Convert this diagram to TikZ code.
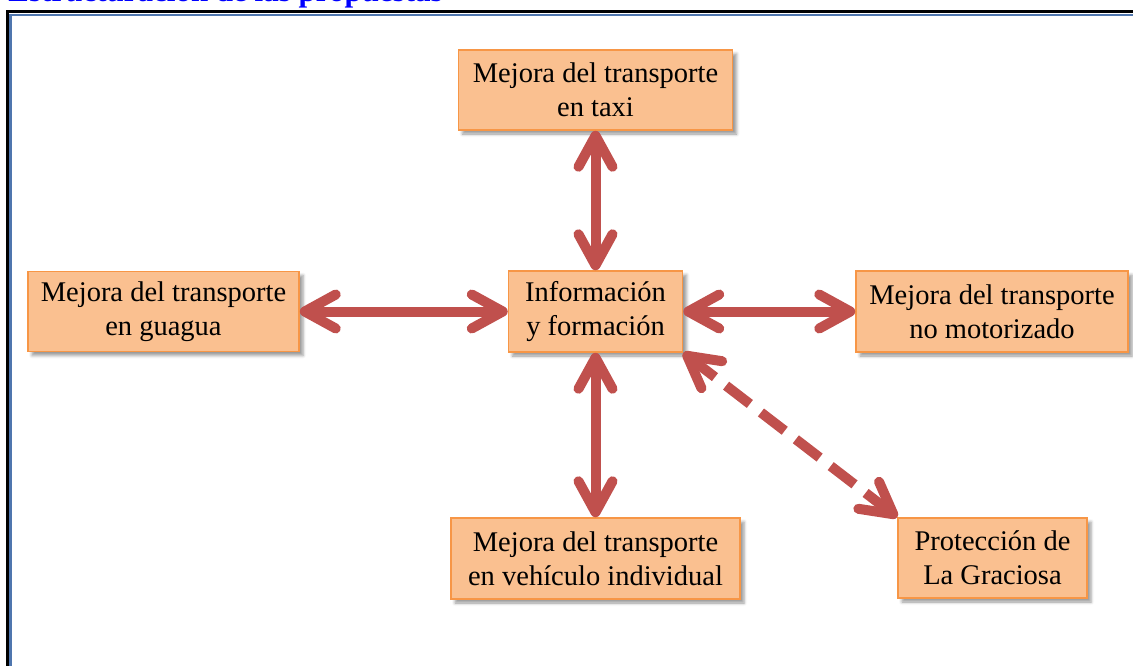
\documentclass[tikz,border=0pt]{standalone}
\usepackage{fontspec}
\setmainfont{Liberation Serif}
\usetikzlibrary{arrows.meta,shadows.blur}
\definecolor{boxfill}{HTML}{FAC090}
\definecolor{boxline}{HTML}{F79646}
\definecolor{arr}{HTML}{C0504D}
\definecolor{frameblue}{HTML}{4F76AE}
\definecolor{titleblue}{HTML}{0000FF}
\begin{document}
\begin{tikzpicture}[x=1pt,y=-1pt,
  box/.style={draw=boxline, line width=1.5pt, fill=boxfill, inner sep=0pt,
    align=center, font=\fontsize{28.5}{34}\selectfont,
    blur shadow={shadow xshift=4pt, shadow yshift=-4pt, shadow blur radius=3pt, shadow opacity=40}},
  barb/.tip={Straight Barb[length=31pt,width=34pt,round]},
  link/.style={draw=arr, line width=10pt, barb-barb},
  dlink/.style={link, dash pattern=on 30pt off 14pt}
]
\path[use as bounding box] (0,0) rectangle (1133,666);
\clip (0,0) rectangle (1133,666);
\node[anchor=base east, inner sep=0pt, text=titleblue,
  font=\fontsize{31}{31}\bfseries\selectfont] (title) at (443,1.5) {Estructuración de las propuestas};
\draw[black, line width=3pt] (7.5,11.3) rectangle (1160,700);
\draw[frameblue, line width=2.5pt] (10.5,15) rectangle (1160,700);

\node[box, minimum width=274pt, minimum height=80pt] (taxi) at (595.5,90) {Mejora del transporte\\en taxi};
\node[box, minimum width=271pt, minimum height=80pt] (guagua) at (163.5,311.5) {Mejora del transporte\\en guagua};
\node[box, minimum width=174pt, minimum height=81pt] (info) at (595.5,311.5) {Información\\y formación};
\node[box, minimum width=272pt, minimum height=81pt] (nomot) at (992,311.5) {Mejora del transporte\\no motorizado};
\node[box, minimum width=289pt, minimum height=81pt] (veh) at (595.5,558.5) {Mejora del transporte\\en vehículo individual};
\node[box, minimum width=189pt, minimum height=80pt] (grac) at (992.5,558) {Protección de\\La Graciosa};

\draw[link] (taxi.south) -- (info.north);
\draw[link] (guagua.east) -- (info.west);
\draw[link] (info.east) -- (nomot.west);
\draw[link] (info.south) -- (veh.north);
\draw[dlink] (info.south east) -- (grac.north west);
\end{tikzpicture}
\end{document}
